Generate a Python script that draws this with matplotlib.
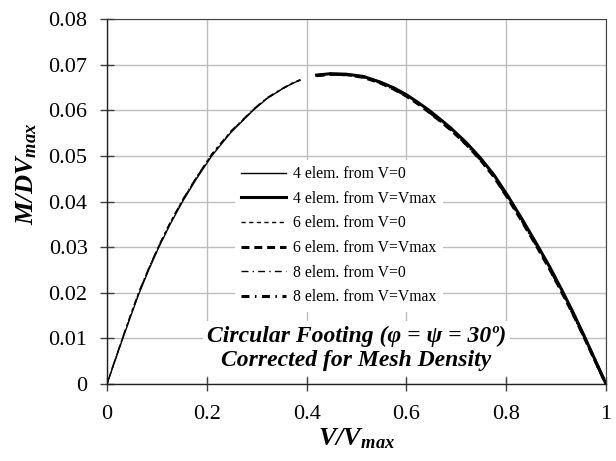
import matplotlib
matplotlib.use("Agg")
import matplotlib.pyplot as plt

plt.rcParams['font.family'] = ['Liberation Serif', 'DejaVu Serif']
plt.rcParams['mathtext.fontset'] = 'custom'
plt.rcParams['mathtext.rm'] = 'Liberation Serif'
plt.rcParams['mathtext.it'] = 'Liberation Serif:italic'
plt.rcParams['mathtext.bf'] = 'Liberation Serif:bold'
plt.rcParams['mathtext.bfit'] = 'Liberation Serif:italic:bold'

# Loading branch starting from V = 0
v_up = [0.000, 0.016, 0.032, 0.048, 0.064, 0.084, 0.104, 0.127, 0.152, 0.180,
        0.210, 0.248, 0.293, 0.320, 0.350, 0.370, 0.387]
m_up_4 = [0.0000, 0.0051, 0.0101, 0.0150, 0.0198, 0.0251, 0.0300, 0.0351, 0.0401,
          0.0451, 0.0500, 0.0551, 0.0600, 0.0625, 0.0646, 0.0658, 0.0666]
m_up_6 = [0.0000, 0.0052, 0.0103, 0.0153, 0.0201, 0.0254, 0.0303, 0.0354, 0.0404,
          0.0454, 0.0503, 0.0553, 0.0601, 0.0626, 0.0646, 0.0658, 0.0666]
m_up_8 = [0.0000, 0.0053, 0.0104, 0.0154, 0.0202, 0.0255, 0.0304, 0.0355, 0.0405,
          0.0455, 0.0504, 0.0554, 0.0602, 0.0627, 0.0647, 0.0659, 0.0667]

# Loading branch starting from V = Vmax
v_down = [0.420, 0.447, 0.480, 0.514, 0.547, 0.575, 0.600, 0.622, 0.644, 0.667,
          0.690, 0.720, 0.747, 0.775, 0.804, 0.833, 0.861, 0.887, 0.911, 0.934,
          0.956, 0.978, 1.000]
m_down_4 = [0.0677, 0.0680, 0.0679, 0.0674, 0.0662, 0.0649, 0.0634, 0.0618, 0.0601,
            0.0581, 0.0560, 0.0529, 0.0497, 0.0459, 0.0411, 0.0359, 0.0307, 0.0257,
            0.0207, 0.0157, 0.0106, 0.0053, 0.0000]
m_down_6 = [0.0676, 0.0679, 0.0678, 0.0672, 0.0660, 0.0646, 0.0631, 0.0615, 0.0597,
            0.0577, 0.0556, 0.0525, 0.0493, 0.0455, 0.0406, 0.0354, 0.0302, 0.0252,
            0.0202, 0.0153, 0.0103, 0.0051, 0.0000]
m_down_8 = [0.0676, 0.0679, 0.0678, 0.0673, 0.0661, 0.0647, 0.0632, 0.0616, 0.0598,
            0.0578, 0.0557, 0.0526, 0.0494, 0.0456, 0.0408, 0.0356, 0.0304, 0.0254,
            0.0204, 0.0154, 0.0104, 0.0052, 0.0000]

labels = ["4 elem. from V=0", "4 elem. from V=Vmax",
          "6 elem. from V=0", "6 elem. from V=Vmax",
          "8 elem. from V=0", "8 elem. from V=Vmax"]

x_ticks = [0, 0.2, 0.4, 0.6, 0.8, 1.0]
x_ticklabels = ["0", "0.2", "0.4", "0.6", "0.8", "1"]
y_ticks = [0, 0.01, 0.02, 0.03, 0.04, 0.05, 0.06, 0.07, 0.08]
y_ticklabels = ["0", "0.01", "0.02", "0.03", "0.04", "0.05", "0.06", "0.07", "0.08"]

fig = plt.figure(figsize=(6.16, 4.61), dpi=100)
ax = fig.add_axes([107 / 616, 1 - 384 / 461, 499 / 616, 365 / 461])

thin, thick = 1.0, 2.2
ax.plot(v_up, m_up_4, color='black', lw=thin, label=labels[0])
ax.plot(v_down, m_down_4, color='black', lw=thick, label=labels[1])
ax.plot(v_up, m_up_6, color='black', lw=thin, dashes=(3, 2.5), label=labels[2])
ax.plot(v_down, m_down_6, color='black', lw=thick, dashes=(2.6, 1.6), label=labels[3])
ax.plot(v_up, m_up_8, color='black', lw=thin, dashes=(5, 3, 1, 3), label=labels[4])
ax.plot(v_down, m_down_8, color='black', lw=thick, dashes=(2.6, 1.8, 0.5, 1.8), label=labels[5])

ax.set_xlim(0, 1)
ax.set_ylim(0, 0.08)
ax.set_xticks(x_ticks)
ax.set_xticklabels(x_ticklabels)
ax.set_yticks(y_ticks)
ax.set_yticklabels(y_ticklabels)
ax.tick_params(direction='inout', length=10, width=1, color='#404040',
               labelsize=16)
ax.tick_params(axis='x', pad=10)
ax.tick_params(axis='y', pad=9)
ax.grid(True, color='#bdbdbd', lw=1.0)
ax.set_axisbelow(True)
for side in ('left', 'bottom'):
    ax.spines[side].set_color('#202020')
    ax.spines[side].set_linewidth(1.0)
for side in ('top', 'right'):
    ax.spines[side].set_color('#404040')
    ax.spines[side].set_linewidth(0.8)

ax.set_xlabel(r'$\mathbfit{V/V}_{\mathbfit{max}}$', fontsize=19)
ax.set_ylabel(r'$\mathbfit{M/DV}_{\mathbfit{max}}$', fontsize=19)
ax.xaxis.set_label_coords(0.5, -0.115)
ax.yaxis.set_label_coords(-0.136, 0.575)

leg = ax.legend(loc='upper left', bbox_to_anchor=(0.2565, 0.614), fontsize=11.3,
                frameon=True, fancybox=False, edgecolor='none', facecolor='white',
                framealpha=1, handlelength=2.85, handletextpad=0.45,
                labelspacing=0.55, borderaxespad=0, borderpad=0.4)

ax.text(0.5, 0.0078, "Circular Footing (\u03c6 = \u03c8 = 30\u00ba)\nCorrected for Mesh Density",
        ha='center', va='center', fontsize=17, fontweight='bold', fontstyle='italic',
        linespacing=1.22,
        bbox=dict(facecolor='white', edgecolor='none', pad=3))

fig.savefig('out.png', dpi=100)
